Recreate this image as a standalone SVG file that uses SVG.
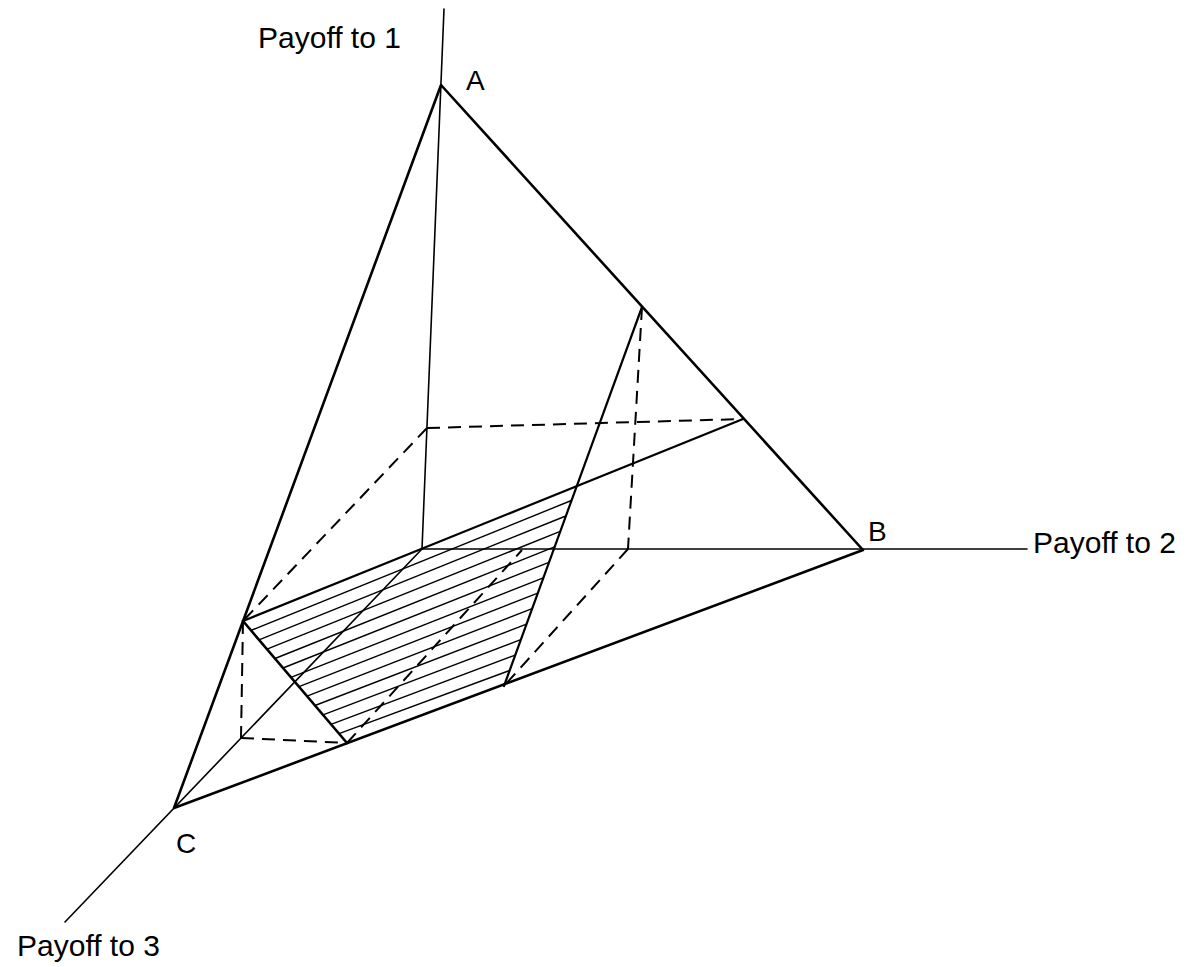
<svg xmlns="http://www.w3.org/2000/svg" width="1191" height="967" viewBox="0 0 1191 967">
<style>
.bg{fill:#fff}
.axis{stroke:#000;stroke-width:1.6;fill:none;stroke-linecap:round}
.edge{stroke:#000;stroke-width:2.6;fill:none;stroke-linecap:round;stroke-linejoin:round}
.solid{stroke:#000;stroke-width:2.2;fill:none;stroke-linecap:round}
.dash{stroke:#000;stroke-width:2;fill:none;stroke-dasharray:13 8}
.hatch{stroke:#000;stroke-width:1.4;fill:none}
.lbl{font-family:"Liberation Sans",Arial,sans-serif;font-size:30px;fill:#000}
.pt{font-family:"Liberation Sans",Arial,sans-serif;font-size:28px;fill:#000}
</style>
<rect class="bg" x="0" y="0" width="1191" height="967"/>
<g id="connectors">
  <g id="axes">
    <line class="axis" x1="444" y1="9" x2="422" y2="549"/>
    <line class="axis" x1="422" y1="549" x2="1027" y2="549"/>
    <line class="axis" x1="422" y1="549" x2="65" y2="922"/>
  </g>
  <g id="triangle">
    <polygon class="edge" points="441,85 863,550 174,808"/>
  </g>
  <g id="inner-solid">
    <line class="solid" x1="243" y1="621" x2="743" y2="419"/>
    <line class="solid" x1="642" y1="307" x2="504" y2="686"/>
    <line class="edge" x1="243" y1="621" x2="347" y2="743"/>
  </g>
  <g id="inner-dashed">
    <line class="dash" x1="427" y1="428" x2="743" y2="419"/>
    <line class="dash" x1="427" y1="428" x2="243" y2="621"/>
    <line class="dash" x1="642" y1="307" x2="628" y2="549"/>
    <line class="dash" x1="628" y1="549" x2="504" y2="686"/>
    <line class="dash" x1="243" y1="621" x2="241" y2="738"/>
    <line class="dash" x1="241" y1="738" x2="347" y2="743"/>
    <line class="dash" x1="347" y1="743" x2="522" y2="550"/>
  </g>
  <g id="hatching">
    <line class="hatch" x1="251" y1="630.4" x2="571.4" y2="500.5"/>
    <line class="hatch" x1="259" y1="639.9" x2="565.8" y2="516.0"/>
    <line class="hatch" x1="267" y1="649.2" x2="560.2" y2="531.4"/>
    <line class="hatch" x1="275" y1="658.5" x2="554.5" y2="546.8"/>
    <line class="hatch" x1="283" y1="668.0" x2="548.9" y2="562.3"/>
    <line class="hatch" x1="291" y1="677.3" x2="543.3" y2="577.8"/>
    <line class="hatch" x1="299" y1="686.7" x2="537.7" y2="593.2"/>
    <line class="hatch" x1="307" y1="696.2" x2="532.1" y2="608.7"/>
    <line class="hatch" x1="315" y1="705.5" x2="526.5" y2="624.2"/>
    <line class="hatch" x1="323" y1="714.8" x2="520.8" y2="639.6"/>
    <line class="hatch" x1="331" y1="724.3" x2="515.2" y2="655.1"/>
    <line class="hatch" x1="339" y1="733.6" x2="509.6" y2="670.5"/>
  </g>
</g>
<g id="label-axis1"><text class="lbl" x="258" y="48">Payoff to 1</text></g>
<g id="label-axis2"><text class="lbl" x="1033" y="553">Payoff to 2</text></g>
<g id="label-axis3"><text class="lbl" x="17" y="956">Payoff to 3</text></g>
<g id="node-A"><text class="pt" x="466" y="90">A</text></g>
<g id="node-B"><text class="pt" x="868" y="541">B</text></g>
<g id="node-C"><text class="pt" x="176" y="853">C</text></g>
</svg>
